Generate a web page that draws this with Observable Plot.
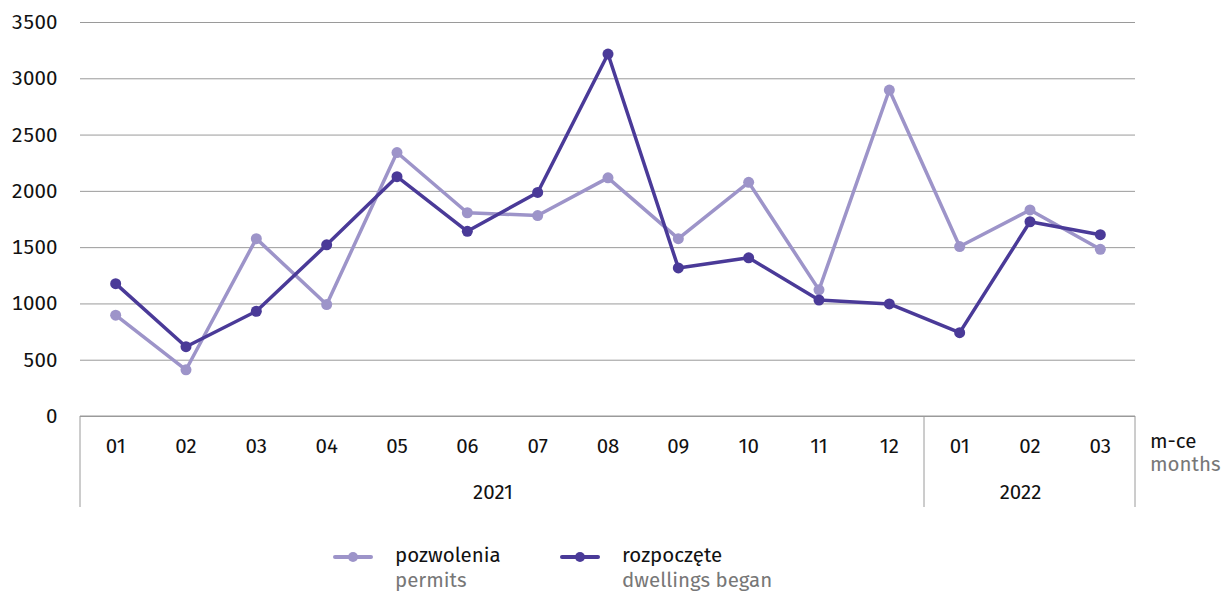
<!DOCTYPE html>
<html>
<head>
<meta charset="utf-8">
<script src="https://cdn.jsdelivr.net/npm/d3@7"></script>
<script src="https://cdn.jsdelivr.net/npm/@observablehq/plot@0.6"></script>
<style>
  html, body { margin: 0; padding: 0; background: #fff; }
  body { width: 1225px; height: 593px; overflow: hidden; font-family: "Fira Sans", "Noto Sans", sans-serif; }
  #legend { position: relative; height: 73px; }
  .item { position: absolute; top: 23px; }
  .swatch { position: absolute; top: 12px; width: 40px; height: 4px; border-radius: 2px; }
  .swatch::after { content: ""; position: absolute; left: 15px; top: -3px; width: 10px; height: 10px; border-radius: 50%; background: inherit; }
  .lbl { position: absolute; left: 62px; top: 0; font-size: 20.5px; line-height: 25px; color: #111; white-space: nowrap; }
  .lbl span { display: block; color: #777; }
</style>
</head>
<body>
<div id="chart"></div>
<div id="legend"></div>
<script>
const years = ["2021","2021","2021","2021","2021","2021","2021","2021","2021","2021","2021","2021","2022","2022","2022"];
const months = ["01","02","03","04","05","06","07","08","09","10","11","12","01","02","03"];
const pozwolenia = [900, 415, 1580, 995, 2345, 1810, 1785, 2120, 1580, 2080, 1125, 2900, 1510, 1835, 1485];
const rozpoczete = [1180, 620, 935, 1525, 2130, 1645, 1990, 3220, 1320, 1410, 1035, 1000, 745, 1730, 1615];
const yTicks = [0, 500, 1000, 1500, 2000, 2500, 3000, 3500];
const seriesNames = ["pozwolenia", "rozpoczęte"];
const seriesEn = ["permits", "dwellings began"];
const colors = ["#9d94c9", "#4a3a98"];

const keys = months.map((m, i) => years[i] + "-" + m);
const rows = [];
keys.forEach((k, i) => {
  rows.push({key: k, value: pozwolenia[i], series: seriesNames[0]});
  rows.push({key: k, value: rozpoczete[i], series: seriesNames[1]});
});

const FS = 20.5;
const chart = Plot.plot({
  width: 1225,
  height: 520,
  marginLeft: 80,
  marginRight: 90,
  marginTop: 22,
  marginBottom: 104,
  style: {fontFamily: '"Fira Sans", "Noto Sans", sans-serif', fontSize: FS + "px", color: "#111", background: "#fff", overflow: "visible"},
  x: {type: "point", domain: keys, padding: 0.5, round: false, axis: null},
  y: {domain: [0, 3500], axis: null},
  color: {domain: seriesNames, range: colors},
  marks: [
    Plot.gridY(yTicks, {stroke: "#9a9a9a", strokeOpacity: 1, strokeWidth: 1}),
    Plot.axisY(yTicks, {tickSize: 0, tickPadding: 23, fontSize: FS, fill: "#111", tickFormat: d => String(d), label: null}),
    Plot.axisX(keys, {tickSize: 0, tickPadding: 22, fontSize: FS, fill: "#111", tickFormat: d => d.slice(5), label: null}),
    Plot.line(rows, {x: "key", y: "value", z: "series", stroke: "series", strokeWidth: 3.5}),
    Plot.dot(rows, {x: "key", y: "value", fill: "series", r: 5.5})
  ]
});
document.getElementById("chart").appendChild(chart);

// frame for grouped x axis, positioned from the Plot scales
const xs = chart.scale("x"), ys = chart.scale("y");
const step = xs.step;
const svg = d3.select(chart);
const y0 = ys.apply(0);
const yBottom = y0 + 91;
const groups = d3.groups(keys.map((k, i) => ({k, year: years[i]})), d => d.year);
const bounds = [xs.apply(keys[0]) - step / 2];
groups.forEach(([yr, arr]) => bounds.push(xs.apply(arr[arr.length - 1].k) + step / 2));
const g = svg.append("g").attr("font-family", '"Fira Sans", "Noto Sans", sans-serif');
g.append("line").attr("x1", bounds[0]).attr("x2", bounds[bounds.length - 1])
  .attr("y1", y0).attr("y2", y0).attr("stroke", "#9a9a9a");
bounds.forEach(b => g.append("line").attr("x1", b).attr("x2", b)
  .attr("y1", y0).attr("y2", yBottom).attr("stroke", "#9a9a9a"));
groups.forEach(([yr, arr], i) => {
  g.append("text").attr("x", (bounds[i] + bounds[i + 1]) / 2).attr("dx", -9).attr("y", y0 + 83)
    .attr("text-anchor", "middle").attr("font-size", FS).attr("fill", "#111").text(yr);
});
const xr = bounds[bounds.length - 1] + 15;
g.append("text").attr("x", xr).attr("y", y0 + 32).attr("text-anchor", "start").attr("font-size", FS).attr("fill", "#111").text("m-ce");
g.append("text").attr("x", xr).attr("y", y0 + 55).attr("text-anchor", "start").attr("font-size", FS).attr("fill", "#777").text("months");

// legend
const legend = document.getElementById("legend");
const lefts = [333, 560];
seriesNames.forEach((n, i) => {
  const it = document.createElement("div");
  it.className = "item";
  it.style.left = lefts[i] + "px";
  it.innerHTML = `<div class="swatch" style="background:${colors[i]}"></div><div class="lbl">${n}<span>${seriesEn[i]}</span></div>`;
  legend.appendChild(it);
});
</script>
</body>
</html>
